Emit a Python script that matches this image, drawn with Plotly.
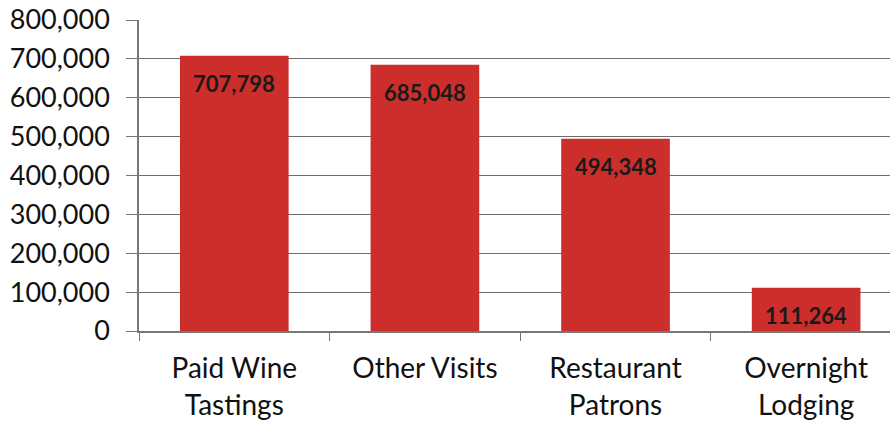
import plotly.graph_objects as go

categories = ["Paid Wine<br>Tastings", "Other Visits", "Restaurant<br>Patrons", "Overnight<br>Lodging"]
values = [707798, 685048, 494348, 111264]
labels = ["707,798", "685,048", "494,348", "111,264"]
tick_vals = [0, 100000, 200000, 300000, 400000, 500000, 600000, 700000, 800000]
tick_text = ["0", "100,000", "200,000", "300,000", "400,000", "500,000", "600,000", "700,000", "800,000"]

fig = go.Figure()
fig.add_trace(go.Bar(
    x=categories, y=values, width=0.57,
    marker=dict(color="#cc2e2b", line=dict(width=0)),
    hoverinfo="skip",
))
for c, v, t in zip(categories, values, labels):
    fig.add_annotation(x=c, y=v, text="<b>" + t + "</b>", showarrow=False,
                       yanchor="top", yshift=-12,
                       font=dict(family="Lato, Open Sans, sans-serif", size=22, color="#1a1a1a"))

fig.update_layout(
    width=890, height=426,
    margin=dict(l=139, r=0, t=20, b=95),
    plot_bgcolor="white", paper_bgcolor="white",
    showlegend=False,
    font=dict(family="Lato, Open Sans, sans-serif", color="#111111"),
)
fig.update_xaxes(
    range=[-0.5, 3.44], showgrid=False, automargin=False,
    showline=True, linecolor="#777777", linewidth=1.5,
    ticks="outside", tickson="boundaries", ticklen=8, tickcolor="#777777",
    tickfont=dict(size=28), ticklabelstandoff=12, ticklabeloverflow="allow",
)
fig.update_yaxes(
    range=[0, 800000], tickvals=tick_vals, ticktext=tick_text, automargin=False,
    showgrid=True, gridcolor="#6e6e6e", gridwidth=1.2,
    showline=True, linecolor="#777777", linewidth=1.5,
    zeroline=False,
    ticks="outside", ticklen=11, tickcolor="#777777",
    tickfont=dict(size=27), ticklabelstandoff=11, ticklabeloverflow="allow",
)
fig.write_html("out.html", config={"displayModeBar": False},
               post_script="document.body.style.margin='0';document.body.style.overflow='hidden';")
